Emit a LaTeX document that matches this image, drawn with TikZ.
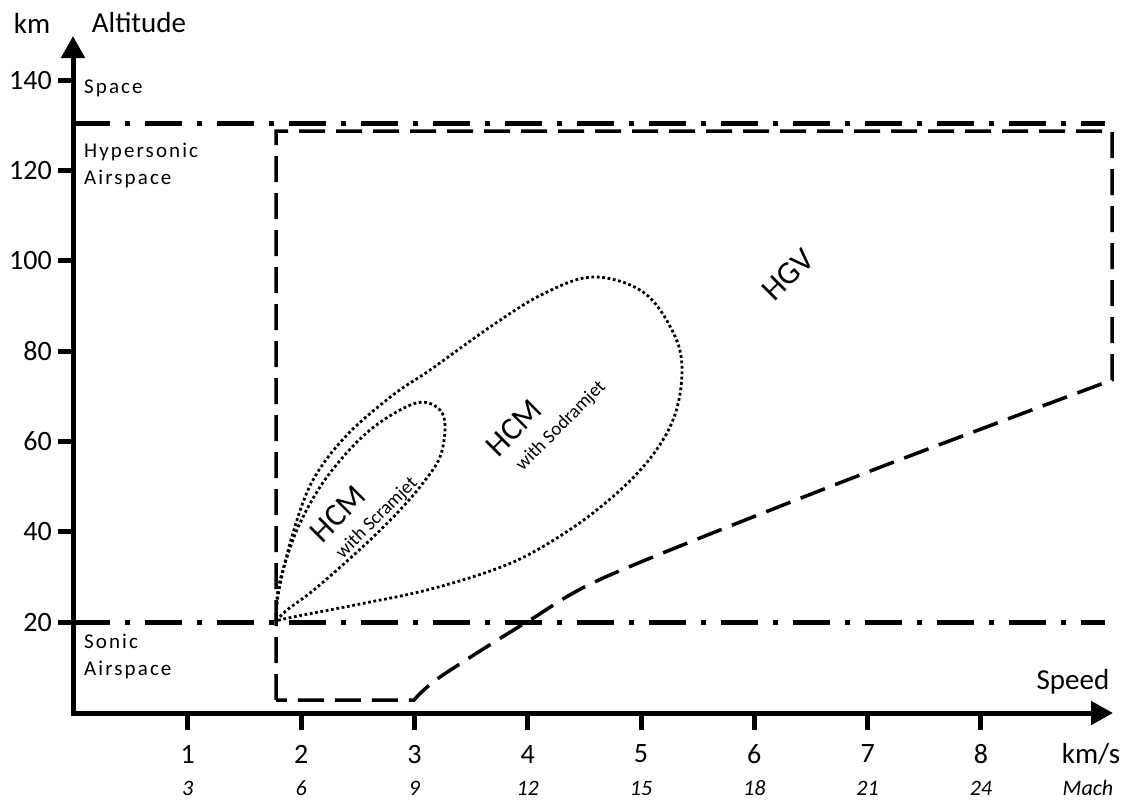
\documentclass[tikz,border=0pt]{standalone}
\usepackage{fontspec}
\setmainfont{Carlito}
\usetikzlibrary{arrows.meta}
\tikzset{
    axis/.style = {
        line width=5pt, line join=miter,
        {Triangle[length=22pt,width=23pt]}-{Triangle[length=22pt,width=23pt]}
    },
    tickmark/.style = {
        line width=5pt
    },
    boundary/.style = {
        line width=5pt,
        dash pattern=on 37pt off 15pt on 5pt off 15pt
    },
    hgvzone/.style = {
        line width=3.5pt,
        dash pattern=on 26pt off 11pt
    },
    hcmzone/.style = {
        line width=2.8pt,
        dash pattern=on 2.8pt off 2.6pt
    },
    axistitle/.style = {
        font=\fontsize{29}{31}\selectfont, inner sep=0pt
    },
    ticklabel/.style = {
        font=\fontsize{28}{30}\selectfont, inner sep=0pt
    },
    machlabel/.style = {
        font=\fontsize{22}{24}\selectfont\itshape, inner sep=0pt
    },
    zonelabel/.style = {
        font=\fontsize{21}{27}\selectfont\addfontfeatures{LetterSpace=10},
        align=left, inner sep=0pt
    },
    vehicle/.style = {
        font=\fontsize{32}{34}\selectfont, rotate=45, inner sep=0pt
    },
    engine/.style = {
        font=\fontsize{19}{21}\selectfont, rotate=45, inner sep=0pt
    }
}

\begin{document}
\begin{tikzpicture}[x=1pt, y=-1pt]

\useasboundingbox (0,0) rectangle (1130,801);

\coordinate (tip) at (276,621);

\draw [axis] (73,36) -- (73,713) -- (1113,713);

\foreach \a in {20,40,...,140} {
    \draw [tickmark] (58,{712.5-4.517*\a}) -- ++(15,0);
    \node (alt\a) [ticklabel, anchor=east] at (52,{712.5-4.517*\a}) {\a};
}
\foreach \v/\m in {1/3,2/6,3/9,4/12,5/15,6/18,7/21,8/24} {
    \draw [tickmark] ({74.5+113.3*\v},713) -- ++(0,17);
    \node (kms\v) [ticklabel] at ({74.5+113.3*\v},754) {\v};
    \node (mach\v) [machlabel] at ({74.5+113.3*\v},788) {\m};
}

\node (km) [axistitle] at (32,23) {km};
\node (altitude) [axistitle] at (139,23) {Altitude};
\node (speed) [axistitle] at (1073,682) {Speed};
\node (kmps) [axistitle] at (1091,754) {km/s};
\node (mach) [machlabel] at (1088,788) {Mach};

\draw [boundary] (73,123) -- (1105,123);
\draw [boundary] (73,622) -- (1105,622);

\node (space) [zonelabel, anchor=base west] at (84,93) {Space};
\node (hyper) [zonelabel, anchor=north west] at (84,143) {Hypersonic\\Airspace};
\node (sonic) [zonelabel, anchor=north west] at (84,634) {Sonic\\Airspace};

\draw [hgvzone] (276,700) -- (276,131) -- (1112,131) -- (1112,380)
    -- plot[smooth, tension=0.5] coordinates {(1112,380) (860,475) (610,575) (530,620) (440,677) (414,700)}
    -- cycle;

\draw [hcmzone] plot[smooth, tension=0.6] coordinates {
    (tip) (279,590) (293,533) (313,480) (347,435) (393,395) (430,370)
    (493,325) (543,294) (593,277) (643,292) (673,332) (682,370) (673,420)
    (643,467) (593,513) (537,550) (493,570) (427,590) (360,604) (293,617) (tip)};
\draw [hcmzone] plot[smooth, tension=0.6] coordinates {
    (tip) (278,590) (287,557) (300,523) (320,487) (343,457) (370,430)
    (400,410) (423,402) (440,410) (445,427) (440,457) (423,483) (400,510)
    (370,540) (337,570) (310,593) (287,610) (tip)};

\node (hgv) [vehicle] at (788,275) {HGV};
\node (hcmsod) [vehicle] at (514,428) {HCM};
\node (sod) [engine] at (561,426) {with Sodramjet};
\node (hcmscr) [vehicle] at (338,514) {HCM};
\node (scr) [engine] at (377,518) {with Scramjet};

\end{tikzpicture}
\end{document}
